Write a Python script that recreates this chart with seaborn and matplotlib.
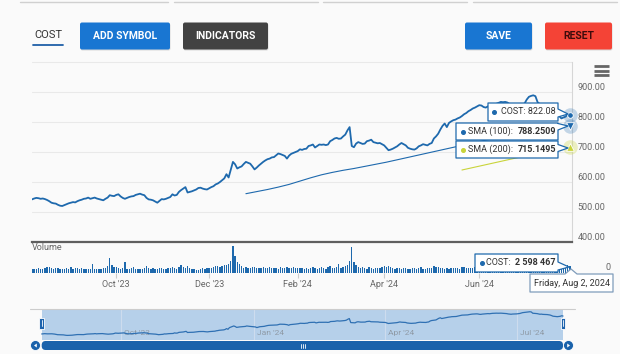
import numpy as np
import pandas as pd
import matplotlib
matplotlib.use("Agg")
import matplotlib.pyplot as plt
import matplotlib.dates as mdates
from matplotlib.patches import Polygon, FancyBboxPatch, Rectangle, Circle
import seaborn as sns

sns.set_theme(style="white")
plt.rcParams["font.family"] = ["Roboto", "DejaVu Sans"]

# ---------------- data ----------------
holidays = ["2023-09-04", "2023-11-23", "2023-12-25", "2024-01-01", "2024-01-15",
            "2024-02-19", "2024-03-29", "2024-05-27", "2024-06-19", "2024-07-04"]
dates = pd.bdate_range("2023-08-07", "2024-08-02")
dates = dates[~dates.isin(pd.to_datetime(holidays))]

cost_close = [
    542, 545, 547, 546, 544, 545, 543, 540, 536, 531,
    529, 528, 524, 521, 520, 523, 526, 529, 531, 533,
    532, 536, 539, 541, 544, 545, 548, 544, 546, 548,
    545, 543, 541, 539, 544, 548, 556, 554, 553, 557,
    559, 552, 547, 544, 547, 550, 552, 553, 557, 559,
    561, 558, 556, 547, 542, 541, 539, 535, 531, 537,
    543, 542, 544, 547, 550, 559, 555, 557, 567, 573,
    578, 583, 565, 567, 569, 572, 575, 580, 581, 578,
    576, 575, 579, 583, 586, 592, 595, 600, 606, 612,
    626, 615, 641, 667, 659, 645, 649, 652, 660, 667,
    664, 661, 652, 642, 648, 655, 661, 667, 672, 676,
    678, 682, 683, 689, 695, 693, 690, 687, 678, 688,
    694, 697, 700, 703, 709, 707, 710, 711, 720, 722,
    725, 715, 720, 725, 724, 725, 723, 725, 736, 740,
    745, 747, 744, 745, 752, 758, 772, 783, 720, 716,
    728, 733, 730, 727, 728, 736, 738, 741, 733, 731,
    729, 730, 726, 722, 714, 706, 708, 711, 715, 719,
    725, 730, 726, 722, 714, 711, 709, 708, 712, 719,
    722, 726, 724, 722, 727, 730, 745, 752, 761, 775,
    787, 795, 783, 797, 802, 806, 808, 812, 815, 820,
    826, 830, 836, 840, 845, 848, 852, 856, 855, 850,
    848, 852, 857, 860, 858, 861, 864, 867, 866, 867,
    865, 860, 855, 852, 850, 853, 856, 859, 862, 875,
    884, 887, 889, 886, 866, 860, 855, 850, 852, 848,
    845, 842, 838, 830, 820, 812, 815, 818, 826, 822.08,
]

# volume in millions of shares
cost_volume = [
    1.5, 1.7, 1.6, 1.8, 1.6, 1.7, 1.9, 2.2, 2.4, 1.8,
    1.6, 1.9, 2.0, 1.7, 1.5, 1.6, 1.8, 1.7, 2.3, 1.4,
    2.1, 1.9, 1.6, 1.8, 1.7, 1.5, 1.4, 1.6, 3.3, 1.5,
    1.6, 1.4, 1.7, 1.9, 2.1, 2.6, 5.6, 3.2, 2.4, 2.2,
    1.8, 1.6, 2.0, 4.2, 1.7, 1.5, 1.8, 2.3, 1.6, 1.5,
    1.4, 1.6, 1.9, 2.5, 2.0, 1.7, 1.8, 1.6, 1.5, 2.1,
    1.9, 1.7, 1.5, 1.8, 2.1, 2.2, 1.8, 1.6, 2.4, 2.9,
    2.2, 2.0, 2.8, 1.9, 1.7, 1.5, 1.3, 1.1, 1.6, 1.8,
    1.7, 1.9, 2.0, 1.8, 2.2, 2.5, 2.6, 2.3, 2.8, 2.9,
    3.1, 3.6, 4.5, 10.2, 6.6, 4.2, 3.4, 2.6, 2.0, 2.3,
    2.0, 1.8, 2.4, 2.2, 2.1, 1.9, 2.0, 2.3, 1.8, 2.1,
    2.2, 1.9, 2.0, 1.8, 1.7, 2.4, 2.1, 1.9, 2.3, 2.0,
    1.8, 2.2, 2.0, 1.9, 2.1, 1.8, 1.6, 2.0, 1.7, 1.9,
    2.2, 1.8, 1.6, 2.0, 2.4, 1.9, 1.7, 2.3, 2.6, 2.1,
    1.9, 2.2, 3.3, 2.0, 2.4, 2.7, 3.1, 4.6, 9.9, 4.1,
    3.2, 2.4, 1.9, 2.2, 2.0, 1.7, 2.3, 1.8, 1.6, 1.9,
    2.1, 2.0, 2.4, 2.7, 2.2, 2.8, 2.3, 1.9, 1.7, 2.0,
    1.8, 1.6, 2.1, 1.9, 1.7, 1.5, 1.8, 2.0, 1.6, 1.9,
    2.2, 1.7, 1.5, 1.8, 1.9, 2.0, 2.6, 2.2, 2.4, 2.0,
    1.8, 1.7, 1.9, 1.6, 1.8, 2.0, 2.1, 1.9, 1.7, 2.2,
    2.4, 2.0, 1.8, 1.9, 2.1, 2.3, 2.0, 1.9, 1.7, 1.8,
    2.0, 2.2, 1.9, 2.1, 2.5, 2.3, 2.0, 1.8, 1.9, 2.1,
    2.4, 2.0, 1.8, 1.7, 1.9, 2.2, 2.6, 2.3, 2.1, 2.5,
    2.2, 2.0, 2.4, 2.1, 2.8, 2.3, 2.0, 1.9, 2.2, 2.4,
    2.1, 2.3, 2.6, 2.8, 3.0, 2.7, 2.5, 2.9, 3.2, 2.598467,
]

# moving averages, read every 5th session (first value at session 100 / 200)
sma100 = [561, 568, 575, 583, 592, 603, 614, 624, 632, 639, 645, 652, 659, 666, 674, 682,
          690, 698, 706, 714, 722, 730, 738, 745, 752, 759, 766, 772, 778, 784, 788.2509]
sma200 = [640, 648, 656, 664, 672, 680, 688, 695, 702, 709, 715.1495]

price_ticks = [400, 500, 600, 700, 800, 900]
month_ticks = ["2023-10-01", "2023-12-01", "2024-02-01", "2024-04-01", "2024-06-01"]
month_labels = ["Oct '23", "Dec '23", "Feb '24", "Apr '24", "Jun '24"]
nav_months = ["2023-10-01", "2024-01-01", "2024-04-01", "2024-07-01"]
nav_labels = ["Oct '23", "Jan '24", "Apr '24", "Jul '24"]

assert len(dates) == len(cost_close) == len(cost_volume)

# ---------------- style ----------------
BG = "#fafafa"
BLUE = "#1e69ad"
LIME = "#c9d43a"
GRID = "#e9e9e9"
LABEL = "#666666"
W, H = 620, 354

fig = plt.figure(figsize=(6.2, 3.54), dpi=100)
fig.patch.set_facecolor(BG)


def px_axes(x0, y0, x1, y1):
    a = fig.add_axes([x0 / W, 1 - y1 / H, (x1 - x0) / W, (y1 - y0) / H])
    a.set_facecolor("none")
    return a


x = np.arange(len(dates))
x100 = x[99::5]
x200 = x[199::5]
xlim = (0, x[-1] + 0.93)

# ---------------- price pane ----------------
ax = px_axes(32, 62, 572, 242)
for v in [500, 600, 700, 800, 900, 1000]:
    ax.axhline(v, color=GRID, lw=0.8, zorder=0, clip_on=False)
sns.lineplot(x=x100, y=sma100, ax=ax, color=BLUE, lw=0.8, zorder=2)
sns.lineplot(x=x200, y=sma200, ax=ax, color=LIME, lw=0.8, zorder=2)
sns.lineplot(x=x, y=cost_close, ax=ax, color=BLUE, lw=1.3, zorder=3)
ax.set_xlim(*xlim)
ax.set_ylim(400, 1000)
ax.set_xticks([])
ax.set_yticks([])
ax.set(xlabel="", ylabel="")
for s in ["top", "left"]:
    ax.spines[s].set_visible(False)
ax.spines["bottom"].set_color("#5f5f5f")
ax.spines["bottom"].set_linewidth(1.6)
ax.spines["right"].set_color("#d6d6d6")
ax.spines["right"].set_linewidth(0.8)
for v in price_ticks:
    ax.annotate(f"{v:.2f}", xy=(1, v), xycoords=("axes fraction", "data"),
                xytext=(4.0, 3.6), textcoords="offset points",
                ha="left", va="center", fontsize=6.5, color=LABEL)

# hover markers on the last session
last = x[-1]
ax.scatter([last], [cost_close[-1]], s=110, color=BLUE, alpha=0.25, lw=0, clip_on=False, zorder=5)
ax.scatter([last], [cost_close[-1]], s=16, color=BLUE, ec="white", lw=0.6, clip_on=False, zorder=6)
ax.scatter([last], [sma100[-1]], s=110, color=BLUE, alpha=0.25, lw=0, clip_on=False, zorder=5)
ax.scatter([last], [sma100[-1]], s=30, marker="v", color=BLUE, ec="white", lw=0.6, clip_on=False, zorder=6)
ax.scatter([last], [sma200[-1]], s=110, color=LIME, alpha=0.3, lw=0, clip_on=False, zorder=5)
ax.scatter([last], [sma200[-1]], s=30, marker="^", color=LIME, ec="white", lw=0.6, clip_on=False, zorder=6)

# ---------------- volume pane ----------------
vax = px_axes(32, 243, 572, 273)
vax.bar(x, cost_volume, width=0.62, color=BLUE, lw=0)
vax.set_xlim(*xlim)
vax.set_ylim(0, 11.5)
vax.set_yticks([])
for s in vax.spines.values():
    s.set_visible(False)
tick_pos = [dates.searchsorted(pd.Timestamp(m)) for m in month_ticks]
vax.set_xticks(tick_pos)
vax.set_xticklabels(month_labels)
vax.tick_params(axis="x", bottom=True, length=3.6, width=0.8, color="#cccccc",
                labelsize=6.5, labelcolor=LABEL, pad=1.5)
vax.text(0, 1, "Volume", transform=vax.transAxes, ha="left", va="top",
         fontsize=6.5, color=LABEL)
vax.annotate("0", xy=(1, 0), xycoords=("axes fraction", "data"),
             xytext=(24.0, 3.6), textcoords="offset points",
             ha="left", va="center", fontsize=6.5, color=LABEL)

# ---------------- navigator ----------------
nd = mdates.date2num(dates)
nax = px_axes(32, 309, 572, 340)
nax.set_xlim(nd[0] - 6.7, nd[-1] + 6.2)
nax.set_ylim(448, 932)
nax.axvspan(nd[0], nd[-1], color="#b6d0ea", lw=0, zorder=0)
for m, lab in zip(nav_months, nav_labels):
    d = mdates.date2num(pd.Timestamp(m))
    nax.axvline(d, color="#cddcee", lw=0.8, zorder=1)
    nax.annotate(lab, xy=(d, 0.24), xycoords=("data", "axes fraction"),
                 xytext=(2.2, 0), textcoords="offset points",
                 ha="left", va="center", fontsize=6, color="#8f9aa6", zorder=1)
sns.lineplot(x=nd, y=cost_close, ax=nax, color="#2f70b3", lw=0.9, zorder=2)
nax.set_xticks([])
nax.set_yticks([])
nax.set(xlabel="", ylabel="")
for s in nax.spines.values():
    s.set_visible(False)

# ---------------- page chrome & tooltips (pixel overlay) ----------------
ov = fig.add_axes([0, 0, 1, 1])
ov.set_xlim(0, W)
ov.set_ylim(H, 0)
ov.axis("off")
ov.patch.set_alpha(0)

for a, b in [(20, 168), (174, 318), (323, 467), (473, 617)]:
    ov.plot([a, b], [2, 2], color="#d0d0d0", lw=1)

ov.text(48, 35.5, "COST", fontsize=8, color="#333333", ha="center", va="center")
ov.plot([33, 63], [45, 45], color="#1f5fa8", lw=1.3)


def button(x0, x1, label, face, fg):
    ov.add_patch(FancyBboxPatch((x0 + 0.5, 23.5), x1 - x0, 27, boxstyle="round,pad=0,rounding_size=2",
                                fc="#00000022", ec="none"))
    ov.add_patch(FancyBboxPatch((x0, 22.5), x1 - x0, 27, boxstyle="round,pad=0,rounding_size=2",
                                fc=face, ec="none"))
    ov.text((x0 + x1) / 2, 36, label, color=fg, fontsize=7.5, fontweight="bold",
            ha="center", va="center")


button(80, 170, "ADD SYMBOL", "#1976d2", "white")
button(183, 268, "INDICATORS", "#424242", "white")
button(465, 532, "SAVE", "#1976d2", "white")
button(545, 612, "RESET", "#f44336", "#3d0b0b")

for yy in [66, 70.5, 75]:
    ov.plot([594, 609], [yy, yy], color="#666666", lw=2, solid_capstyle="butt")


def callout(pts, edge):
    ov.add_patch(Polygon(pts, closed=True, fc="white", ec=edge, lw=0.9, joinstyle="round", zorder=5))


def box_right(x0, y0, x1, y1, tip, a1, a2, edge=BLUE):
    callout([(x0, y0), (x1, y0), (x1, a1), tip, (x1, a2), (x1, y1), (x0, y1)], edge)


# COST price
box_right(488, 103, 558, 121, (568, 114), 109, 117)
ov.plot([493.5], [112], "o", ms=2.6, color=BLUE, zorder=6)
ov.text(556, 112, f"COST: {cost_close[-1]:.2f}", fontsize=6.5, color="#333333",
        ha="right", va="center", zorder=6)
# SMA 100
box_right(456, 123, 558, 140, (568, 126), 123.5, 130)
ov.plot([462.5], [131.5], "o", ms=2.6, color=BLUE, zorder=6)
ov.text(467.5, 131.5, "SMA (100): ", fontsize=6.5, color="#333333", ha="left", va="center", zorder=6)
ov.text(556, 131.5, f"{sma100[-1]:.4f}", fontsize=6.5, color="#333333", fontweight="bold",
        ha="right", va="center", zorder=6)
# SMA 200
box_right(456, 141, 558, 158, (568, 148), 144.5, 151.5)
ov.plot([462.5], [149.5], "o", ms=2.6, color=LIME, zorder=6)
ov.text(467.5, 149.5, "SMA (200): ", fontsize=6.5, color="#333333", ha="left", va="center", zorder=6)
ov.text(556, 149.5, f"{sma200[-1]:.4f}", fontsize=6.5, color="#333333", fontweight="bold",
        ha="right", va="center", zorder=6)
# volume
vol_txt = f"{round(cost_volume[-1] * 1e6):,}".replace(",", " ")
box_right(475, 254, 558, 272, (569, 267), 262, 270)
ov.plot([481.5], [262.5], "o", ms=2.6, color=BLUE, zorder=6)
ov.text(486.5, 262.5, "COST: ", fontsize=6.5, color="#333333", ha="left", va="center", zorder=6)
ov.text(555.5, 262.5, vol_txt, fontsize=6.5, color="#333333", fontweight="bold",
        ha="right", va="center", zorder=6)
# date label
callout([(530, 274), (565, 274), (571, 269), (577, 274), (613, 274), (613, 292), (530, 292)], "#7f9cbb")
ov.text(571.5, 283, dates[-1].strftime("%A, %b ") + str(dates[-1].day) + dates[-1].strftime(", %Y"),
        fontsize=6.5, color="#333333", ha="center", va="center", zorder=6)

# navigator outline, handles and scrollbar
ov.plot([30, 575], [308.5, 308.5], color="#cccccc", lw=0.8)
for hx in [41.7, 563]:
    ov.add_patch(Rectangle((hx - 2.3, 317.5), 4.6, 11, fc="#1f64ad", ec="white", lw=0.6, zorder=4))
    ov.plot([hx, hx], [320, 326], color="white", lw=0.6, zorder=5)
ov.add_patch(FancyBboxPatch((41.7, 341), 563 - 41.7, 9, boxstyle="round,pad=0,rounding_size=4",
                            fc="#1a62ab", ec="none", zorder=3))
for cx, d in [(35.5, -1), (568.5, 1)]:
    ov.add_patch(Circle((cx, 345.5), 5, fc="#1a62ab", ec="white", lw=0.6, zorder=4))
    ov.add_patch(Polygon([(cx - 1.3 * d, 343.5), (cx - 1.3 * d, 347.5), (cx + 1.5 * d, 345.5)],
                         closed=True, fc="white", ec="none", zorder=5))
for gx in [300.5, 302.5, 304.5]:
    ov.plot([gx, gx], [343.5, 347.5], color="white", lw=0.6, zorder=5)

fig.savefig("out.png", dpi=100, facecolor=fig.get_facecolor())
